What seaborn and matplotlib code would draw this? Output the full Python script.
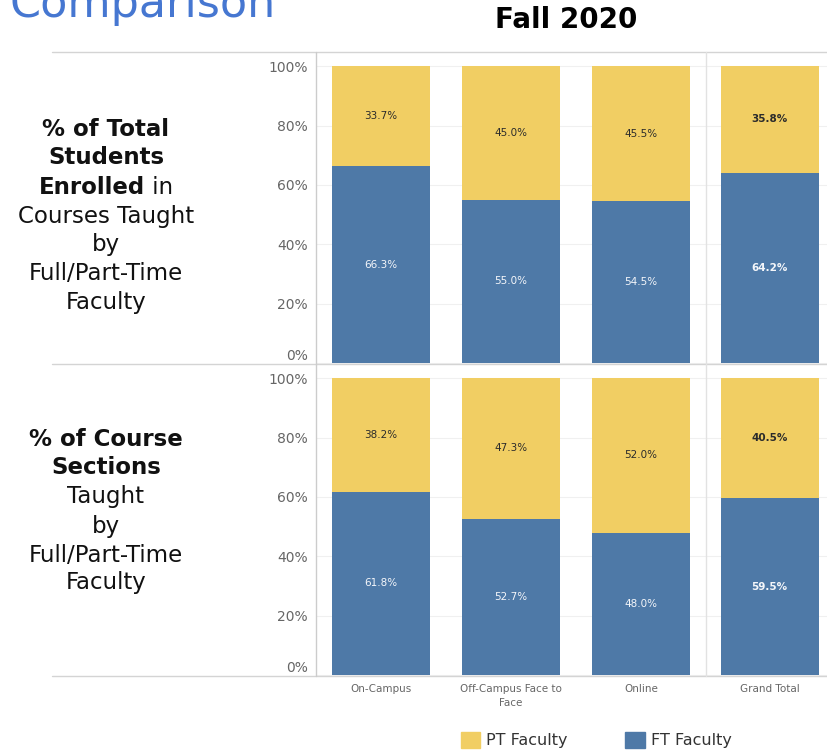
"""
Fall 2020 full/part-time faculty comparison (stacked 100% bars)
"""

import matplotlib.pyplot as plt
import seaborn as sns
from matplotlib.lines import Line2D
from matplotlib.patches import Patch

sns.set_style("white")
plt.rcParams['font.family'] = ['DejaVu Sans']

# Data
categories = ['On-Campus', 'Off-Campus Face to\nFace', 'Online']
total_label = ['Grand Total']

enrolled_ft = [66.3, 55.0, 54.5]
enrolled_pt = [33.7, 45.0, 45.5]
enrolled_total_ft = [64.2]
enrolled_total_pt = [35.8]

sections_ft = [61.8, 52.7, 48.0]
sections_pt = [38.2, 47.3, 52.0]
sections_total_ft = [59.5]
sections_total_pt = [40.5]

y_ticks = [0, 20, 40, 60, 80, 100]

PT_COLOR = '#F1CE63'
FT_COLOR = '#4E79A7'

W, H = 828, 751


def box(l, t, r, b):
    return [l / W, 1 - b / H, (r - l) / W, (b - t) / H]


def draw_stack(ax, cats, ft, pt, bold=False, xlim=(-0.5, 2.5), show_y=True, show_x=False):
    totals = [f + p for f, p in zip(ft, pt)]
    sns.barplot(x=cats, y=totals, color=PT_COLOR, saturation=1, width=0.754,
                errorbar=None, linewidth=0, ax=ax)
    sns.barplot(x=cats, y=ft, color=FT_COLOR, saturation=1, width=0.754,
                errorbar=None, linewidth=0, ax=ax)
    weight = 'bold' if bold else 'normal'
    for i, (f, p) in enumerate(zip(ft, pt)):
        ax.text(i, f / 2, f'{f:.1f}%', ha='center', va='center', color='#f4f6fa',
                fontsize=7.5, fontweight=weight)
        ax.text(i, f + p / 2, f'{p:.1f}%', ha='center', va='center', color='#2b2b2b',
                fontsize=7.5, fontweight=weight)
    ax.set_xlim(*xlim)
    ax.set_ylim(-0.3, 104.8)
    ax.set_yticks(y_ticks)
    ax.yaxis.grid(True, color='#f0f0f0', linewidth=0.8)
    ax.set_axisbelow(True)
    for s in ax.spines.values():
        s.set_visible(False)
    ax.tick_params(length=0)
    if show_y:
        ax.set_yticklabels([f'{t}%' for t in y_ticks], fontsize=10, color='#666666')
        ax.tick_params(axis='y', pad=6)
        ax.get_yticklabels()[0].set_va('bottom')
    else:
        ax.set_yticklabels([])
    if show_x:
        ax.set_xticks(range(len(cats)))
        ax.set_xticklabels(cats, fontsize=7.5, color='#666666', linespacing=1.5)
        ax.tick_params(axis='x', pad=6)
        for lbl in ax.get_xticklabels():
            lbl.set_va('top')
    else:
        ax.set_xticklabels([])
    ax.set_xlabel('')
    ax.set_ylabel('')


fig = plt.figure(figsize=(W / 100, H / 100), dpi=100)

ax_top = fig.add_axes(box(316, 52, 706, 364))
ax_top_tot = fig.add_axes(box(706, 52, 828, 364))
ax_bot = fig.add_axes(box(316, 364, 706, 676))
ax_bot_tot = fig.add_axes(box(706, 364, 828, 676))

tot_xlim = (-0.49, -0.49 + 122 / 130)
draw_stack(ax_top, categories, enrolled_ft, enrolled_pt)
draw_stack(ax_top_tot, total_label, enrolled_total_ft, enrolled_total_pt,
           bold=True, xlim=tot_xlim, show_y=False)
draw_stack(ax_bot, categories, sections_ft, sections_pt, show_x=True)
draw_stack(ax_bot_tot, total_label, sections_total_ft, sections_total_pt,
           bold=True, xlim=tot_xlim, show_y=False, show_x=True)

# Frame lines
for y in (52, 364, 676):
    fig.add_artist(Line2D([52 / W, 1], [1 - y / H, 1 - y / H], color='#d4d4d4', lw=1))
fig.add_artist(Line2D([316 / W, 316 / W], [1 - 52 / H, 1 - 676 / H], color='#cccccc', lw=1))
fig.add_artist(Line2D([706 / W, 706 / W], [1 - 52 / H, 1 - 676 / H], color='#e2e2e2', lw=1))

# Titles (slide heading is cropped at the top edge in the original)
fig.text(10 / W, 1 - 17 / H, 'Comparison', fontsize=32, color='#4677d1',
         ha='left', va='baseline')
fig.text(566 / W, 1 - 20 / H, 'Fall 2020', fontsize=20, fontweight='bold',
         ha='center', va='center', color='black')

# Row headers
cx = 106
row_fs = 16.5
renderer = fig.canvas.get_renderer()


def header_line(y, parts):
    arts = []
    for txt, wt in parts:
        arts.append(fig.text(0, 1 - y / H, txt, fontsize=row_fs, fontweight=wt,
                             ha='left', va='center', color='#111111'))
    widths = [a.get_window_extent(renderer).width for a in arts]
    x = cx - sum(widths) / 2
    for a, w in zip(arts, widths):
        a.set_x(x / W)
        x += w


top_lines = [
    (129, [('% of Total', 'bold')]),
    (158, [('Students', 'bold')]),
    (187, [('Enrolled', 'bold'), (' in', 'normal')]),
    (216, [('Courses Taught', 'normal')]),
    (244, [('by', 'normal')]),
    (273, [('Full/Part-Time', 'normal')]),
    (302, [('Faculty', 'normal')]),
]
bot_lines = [
    (439, [('% of Course', 'bold')]),
    (468, [('Sections', 'bold')]),
    (497, [('Taught', 'normal')]),
    (526, [('by', 'normal')]),
    (555, [('Full/Part-Time', 'normal')]),
    (583, [('Faculty', 'normal')]),
]
for y, parts in top_lines + bot_lines:
    header_line(y, parts)

# Legend
handles = [Patch(color=PT_COLOR, label='PT Faculty'),
           Patch(color=FT_COLOR, label='FT Faculty')]
leg = fig.legend(handles=handles, loc='center', bbox_to_anchor=(596 / W, 1 - 740 / H),
                 ncol=2, frameon=False, fontsize=11.5, handlelength=1.25,
                 handleheight=1.25, handletextpad=0.35, columnspacing=3.6)
for t in leg.get_texts():
    t.set_color('#333333')

plt.savefig('out.png', dpi=100)
plt.close()
